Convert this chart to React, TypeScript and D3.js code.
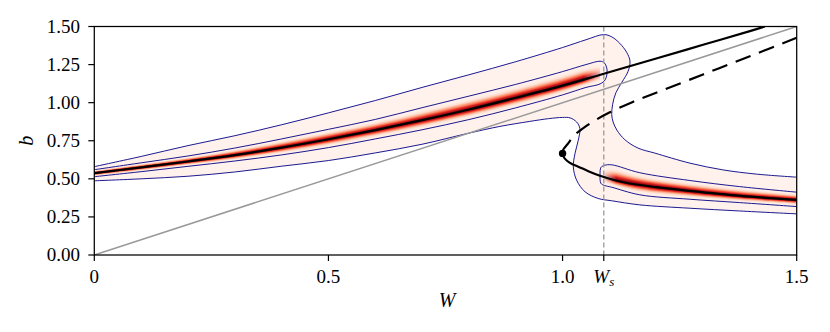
import React from 'react';
import * as d3 from 'd3';

const WIDTH = 830;
const HEIGHT = 332;
const M = { left: 94.3, right: 796.7, top: 26.5, bottom: 255 };

const W_S = 1.088;
const FOLD_W = 1.0;
const FOLD_B = 0.667;

const xTicks = [0, 0.5, 1.0, 1.5];
const xTickLabels = ['0', '0.5', '1.0', '1.5'];
const yTicks = [0, 0.25, 0.5, 0.75, 1.0, 1.25, 1.5];
const yTickLabels = ['0.00', '0.25', '0.50', '0.75', '1.00', '1.25', '1.50'];

// stable upper branch
const upperW = [0, 0.1, 0.2, 0.3, 0.4, 0.5, 0.6, 0.7, 0.8, 0.9, 1.0, 1.088, 1.2, 1.3, 1.4, 1.432];
const upperB = [0.537, 0.575, 0.614, 0.656, 0.705, 0.76, 0.82, 0.885, 0.955, 1.032, 1.112, 1.19, 1.29, 1.38, 1.47, 1.5];

// unstable branch (dashed)
const unstableW = [1.0, 1.002, 1.01, 1.025, 1.045, 1.07, 1.1, 1.15, 1.2, 1.3, 1.4, 1.5];
const unstableB = [0.667, 0.695, 0.725, 0.785, 0.835, 0.885, 0.935, 1.005, 1.065, 1.185, 1.305, 1.426];

// stable lower branch
const lowerW = [1.0, 1.003, 1.01, 1.02, 1.035, 1.055, 1.08, 1.11, 1.14, 1.2, 1.27, 1.38, 1.5];
const lowerB = [0.667, 0.64, 0.617, 0.598, 0.578, 0.55, 0.52, 0.492, 0.471, 0.445, 0.421, 0.388, 0.362];

// reference line b = W
const diagW = [0, 1.5];
const diagB = [0, 1.5];

// upper density band (inner contour + centre)
const upBandW = [0, 0.1, 0.2, 0.3, 0.4, 0.5, 0.6, 0.7, 0.8, 0.9, 1.0, 1.05, 1.08];
const upBandC = [0.537, 0.575, 0.614, 0.656, 0.705, 0.76, 0.82, 0.885, 0.955, 1.032, 1.112, 1.157, 1.183];
const upInnerTop = [0.56, 0.605, 0.65, 0.702, 0.762, 0.825, 0.89, 0.967, 1.043, 1.12, 1.204, 1.25, 1.272];
const upInnerBot = [0.514, 0.547, 0.582, 0.617, 0.657, 0.705, 0.762, 0.822, 0.889, 0.966, 1.051, 1.1, 1.123];
const upCapW = [1.089, 1.095, 1.091];
const upCapB = [1.262, 1.215, 1.15];

// lower density band
const loBandW = [1.09, 1.105, 1.165, 1.272, 1.378, 1.5];
const loBandC = [0.51, 0.497, 0.462, 0.42, 0.388, 0.362];
const loInnerTop = [0.589, 0.592, 0.54, 0.489, 0.449, 0.4125];
const loInnerBot = [0.456, 0.445, 0.395, 0.366, 0.344, 0.318];
const loCapW = [1.082, 1.08, 1.082];
const loCapB = [0.575, 0.525, 0.47];

// outer contour: upper edge (left -> right) and lower edge (right -> left)
const outerTopW = [0, 0.1, 0.2, 0.3, 0.4, 0.5, 0.6, 0.7, 0.8, 0.9, 1.0, 1.05, 1.088, 1.105, 1.122, 1.137, 1.144, 1.14, 1.127, 1.114, 1.107, 1.105, 1.108, 1.116, 1.133, 1.161, 1.197, 1.272, 1.342, 1.414, 1.5];
const outerTopB = [0.58, 0.647, 0.718, 0.783, 0.855, 0.933, 1.014, 1.1, 1.183, 1.269, 1.362, 1.413, 1.447, 1.432, 1.39, 1.33, 1.272, 1.206, 1.135, 1.066, 0.99, 0.921, 0.873, 0.82, 0.757, 0.702, 0.669, 0.603, 0.559, 0.531, 0.511];
const outerBotW = [1.5, 1.378, 1.272, 1.165, 1.105, 1.076, 1.048, 1.03, 1.023, 1.0265, 1.0335, 1.037, 1.03, 1.016, 1.0, 0.97, 0.93, 0.866, 0.8, 0.7, 0.6, 0.5, 0.4, 0.3, 0.2, 0.1, 0];
const outerBotB = [0.27, 0.289, 0.307, 0.329, 0.356, 0.371, 0.415, 0.491, 0.578, 0.666, 0.753, 0.83, 0.873, 0.9, 0.903, 0.895, 0.877, 0.844, 0.8, 0.727, 0.67, 0.62, 0.583, 0.545, 0.517, 0.5, 0.487];

type P = [number, number];
const zip = (ws: number[], bs: number[]): P[] => ws.map((w, i) => [w, bs[i]] as P);

export default function App() {
  const x = d3.scaleLinear().domain([0, 1.5]).range([M.left, M.right]);
  const y = d3.scaleLinear().domain([0, 1.5]).range([M.bottom, M.top]);

  const line = d3
    .line<P>()
    .x((d) => x(d[0]))
    .y((d) => y(d[1]))
    .curve(d3.curveCatmullRom.alpha(0.5));

  const outerTop = zip(outerTopW, outerTopB);
  const outerBot = zip(outerBotW, outerBotB);
  const outerTopPath = line(outerTop) as string;
  const outerBotPath = line(outerBot) as string;
  const outerFill = outerTopPath + 'L' + outerBotPath.slice(1) + 'Z';

  const upInnerChain: P[] = [
    ...zip(upBandW, upInnerTop),
    ...zip(upCapW, upCapB),
    ...zip(upBandW, upInnerBot).reverse(),
  ];
  const loInnerChain: P[] = [
    ...zip(loBandW, loInnerTop).reverse(),
    ...zip(loCapW, loCapB),
    ...zip(loBandW, loInnerBot),
  ];

  type BP = { w: number; c: number; t: number; b: number };
  const upBand: BP[] = upBandW.map((w, i) => ({ w, c: upBandC[i], t: upInnerTop[i], b: upInnerBot[i] }));
  const loBand: BP[] = loBandW.map((w, i) => ({ w, c: loBandC[i], t: loInnerTop[i], b: loInnerBot[i] }));

  const levels = d3.range(1, 0.02, -0.04);
  const levelColor = (u: number) => d3.interpolateReds(Math.max(0.035, 0.95 * Math.exp(-((u / 0.44) ** 2))));
  const bandArea = (u: number) =>
    d3
      .area<BP>()
      .x((d) => x(d.w))
      .y0((d) => y(d.c - u * (d.c - d.b)))
      .y1((d) => y(d.c + u * (d.t - d.c)))
      .curve(d3.curveCatmullRom.alpha(0.5));

  const pw = M.right - M.left;
  const ph = M.bottom - M.top;
  const serif = '"Liberation Serif", "DejaVu Serif", serif';
  const contourColor = '#000085';

  return (
    <svg
      width={WIDTH}
      height={HEIGHT}
      viewBox={`0 0 ${WIDTH} ${HEIGHT}`}
      style={{ position: 'absolute', left: 0, top: 0, background: '#fff' }}
    >
      <defs>
        <clipPath id="plotClip">
          <rect x={M.left} y={M.top} width={pw} height={ph} />
        </clipPath>
        <linearGradient id="upFade" gradientUnits="userSpaceOnUse" x1={x(1.045)} x2={x(1.092)} y1={0} y2={0}>
          <stop offset="0" stopColor="#fff" stopOpacity={1} />
          <stop offset="1" stopColor="#fff" stopOpacity={0} />
        </linearGradient>
        <linearGradient id="loFade" gradientUnits="userSpaceOnUse" x1={x(1.083)} x2={x(1.115)} y1={0} y2={0}>
          <stop offset="0" stopColor="#fff" stopOpacity={0} />
          <stop offset="1" stopColor="#fff" stopOpacity={1} />
        </linearGradient>
        <mask id="upMask" maskUnits="userSpaceOnUse" x={0} y={0} width={WIDTH} height={HEIGHT}>
          <rect x={0} y={0} width={WIDTH} height={HEIGHT} fill="url(#upFade)" />
        </mask>
        <mask id="loMask" maskUnits="userSpaceOnUse" x={0} y={0} width={WIDTH} height={HEIGHT}>
          <rect x={0} y={0} width={WIDTH} height={HEIGHT} fill="url(#loFade)" />
        </mask>
      </defs>

      <g clipPath="url(#plotClip)">
        <path d={outerFill} fill="#fff1ec" stroke="none" />
        <g mask="url(#upMask)">
          {levels.map((u, i) => (
            <path key={'u' + i} d={bandArea(u)(upBand) as string} fill={levelColor(u)} stroke="none" />
          ))}
        </g>
        <g mask="url(#loMask)">
          {levels.map((u, i) => (
            <path key={'l' + i} d={bandArea(u)(loBand) as string} fill={levelColor(u)} stroke="none" />
          ))}
        </g>
        <path d={outerTopPath} fill="none" stroke={contourColor} strokeWidth={0.9} />
        <path d={outerBotPath} fill="none" stroke={contourColor} strokeWidth={0.9} />
        <path d={line(upInnerChain) as string} fill="none" stroke={contourColor} strokeWidth={0.9} />
        <path d={line(loInnerChain) as string} fill="none" stroke={contourColor} strokeWidth={0.9} />

        <path d={line(zip(diagW, diagB)) as string} fill="none" stroke="#999999" strokeWidth={1.5} />
        <line x1={x(W_S)} x2={x(W_S)} y1={M.top} y2={M.bottom} stroke="#a0a0a0" strokeWidth={1.4} strokeDasharray="5,3" />

        <path d={line(zip(upperW, upperB)) as string} fill="none" stroke="#000" strokeWidth={2.2} />
        <path d={line(zip(lowerW, lowerB)) as string} fill="none" stroke="#000" strokeWidth={2.2} />
        <path d={line(zip(unstableW, unstableB)) as string} fill="none" stroke="#000" strokeWidth={2.2} strokeDasharray="16,9" />
        <circle cx={x(FOLD_W)} cy={y(FOLD_B)} r={3.7} fill="#000" />
      </g>

      <rect x={M.left} y={M.top} width={pw} height={ph} fill="none" stroke="#000" strokeWidth={1.25} />

      {xTicks.map((t, i) => (
        <g key={'xt' + i}>
          <line x1={x(t)} x2={x(t)} y1={M.bottom} y2={M.bottom + 6} stroke="#000" strokeWidth={1.2} />
          <text x={x(t)} y={283} textAnchor="middle" fontFamily={serif} fontSize={19} fill="#000">
            {xTickLabels[i]}
          </text>
        </g>
      ))}
      <g>
        <line x1={x(W_S)} x2={x(W_S)} y1={M.bottom} y2={M.bottom + 6} stroke="#000" strokeWidth={1.2} />
        <text x={x(W_S)} y={283} textAnchor="middle" fontFamily={serif} fontSize={19} fill="#000">
          <tspan fontStyle="italic">W</tspan>
          <tspan fontStyle="italic" fontSize={13} dy={3}>s</tspan>
        </text>
      </g>

      {yTicks.map((t, i) => (
        <g key={'yt' + i}>
          <line x1={M.left - 6} x2={M.left} y1={y(t)} y2={y(t)} stroke="#000" strokeWidth={1.2} />
          <text x={80} y={y(t) + 6.3} textAnchor="end" fontFamily={serif} fontSize={19} fill="#000">
            {yTickLabels[i]}
          </text>
        </g>
      ))}

      <text x={447} y={307} textAnchor="middle" fontFamily={serif} fontStyle="italic" fontSize={20} fill="#000">
        W
      </text>
      <text
        transform={`translate(33,${(M.top + M.bottom) / 2}) rotate(-90)`}
        textAnchor="middle"
        fontFamily={serif}
        fontStyle="italic"
        fontSize={20}
        fill="#000"
      >
        b
      </text>
    </svg>
  );
}
